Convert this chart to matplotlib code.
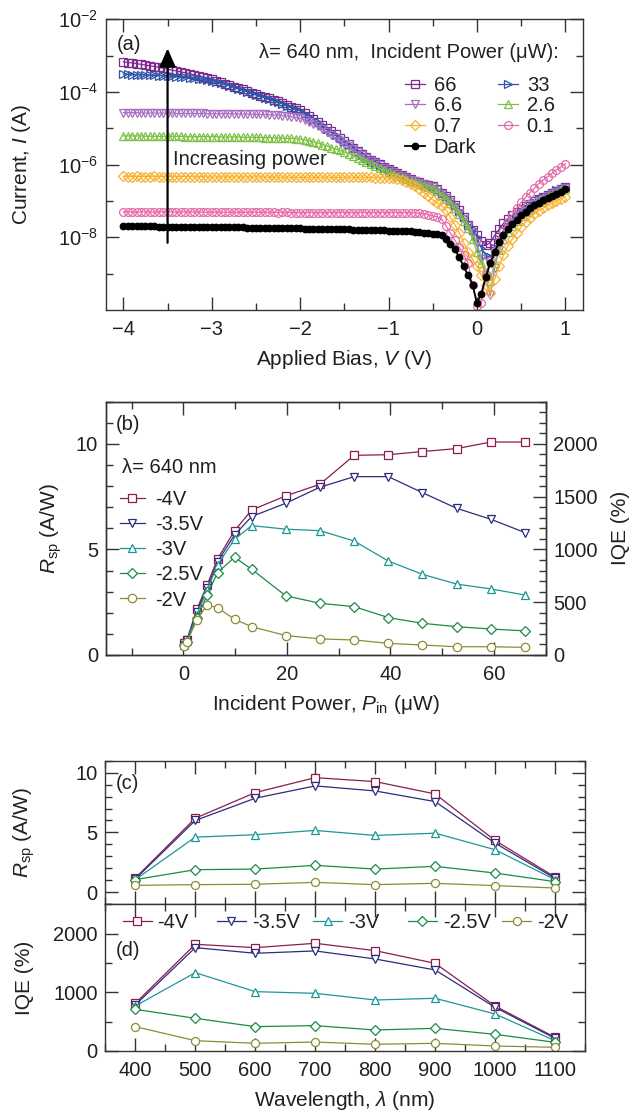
import numpy as np
import matplotlib
matplotlib.use("Agg")
import matplotlib.pyplot as plt
from matplotlib.ticker import FixedLocator, MultipleLocator, NullFormatter, LogFormatterSciNotation

plt.rcParams['font.family'] = ['Liberation Sans', 'DejaVu Sans']
plt.rcParams['mathtext.fontset'] = 'custom'
plt.rcParams['mathtext.rm'] = 'Liberation Sans'
plt.rcParams['mathtext.it'] = 'Liberation Sans:italic'
plt.rcParams['mathtext.bf'] = 'Liberation Sans:bold'
plt.rcParams['mathtext.sf'] = 'Liberation Sans'

# ---------------- panel (a): I-V curves (log10 of current in A) ----------------
bias_V = np.linspace(-4.0, 1.0, 101)   # 0.05 V measurement grid

logI_66 = [-3.17, -3.19, -3.20, -3.22, -3.24, -3.26, -3.28, -3.30, -3.32, -3.35,
           -3.37, -3.40, -3.42, -3.45, -3.47, -3.50, -3.53, -3.56, -3.59, -3.62,
           -3.65, -3.69, -3.73, -3.77, -3.81, -3.85, -3.89, -3.93, -3.97, -4.02,
           -4.06, -4.10, -4.14, -4.18, -4.22, -4.26, -4.31, -4.36, -4.41, -4.45,
           -4.50, -4.58, -4.66, -4.74, -4.82, -4.90, -4.99, -5.08, -5.17, -5.26,
           -5.35, -5.44, -5.53, -5.62, -5.71, -5.80, -5.87, -5.93, -5.99, -6.06,
           -6.12, -6.18, -6.24, -6.29, -6.35, -6.40, -6.44, -6.48, -6.52, -6.56,
           -6.60, -6.68, -6.77, -6.87, -6.98, -7.10, -7.25, -7.45, -7.65, -7.80,
           -7.95, -8.10, -8.22, -8.15, -7.95, -7.78, -7.62, -7.50, -7.40, -7.31,
           -7.22, -7.14, -7.07, -7.00, -6.94, -6.88, -6.83, -6.77, -6.72, -6.67, -6.62]
logI_33 = [-3.51, -3.51, -3.52, -3.52, -3.53, -3.53, -3.54, -3.54, -3.55, -3.55,
           -3.56, -3.57, -3.58, -3.59, -3.60, -3.61, -3.62, -3.64, -3.65, -3.67,
           -3.69, -3.72, -3.75, -3.79, -3.83, -3.87, -3.91, -3.95, -3.99, -4.04,
           -4.08, -4.12, -4.16, -4.20, -4.24, -4.28, -4.33, -4.38, -4.43, -4.47,
           -4.52, -4.60, -4.68, -4.76, -4.84, -4.92, -5.01, -5.10, -5.19, -5.28,
           -5.37, -5.46, -5.55, -5.64, -5.73, -5.82, -5.89, -5.95, -6.01, -6.08,
           -6.14, -6.20, -6.26, -6.31, -6.37, -6.42, -6.46, -6.50, -6.54, -6.58,
           -6.62, -6.70, -6.79, -6.89, -7.00, -7.12, -7.27, -7.45, -7.62, -7.78,
           -8.00, -8.30, -8.50, -8.55, -8.30, -8.05, -7.80, -7.62, -7.48, -7.37,
           -7.27, -7.18, -7.10, -7.02, -6.95, -6.89, -6.83, -6.77, -6.71, -6.66, -6.61]
logI_6p6 = [-4.57, -4.57, -4.57, -4.57, -4.58, -4.58, -4.58, -4.58, -4.58, -4.58,
            -4.58, -4.58, -4.59, -4.59, -4.59, -4.59, -4.59, -4.59, -4.59, -4.60,
            -4.60, -4.60, -4.60, -4.60, -4.60, -4.60, -4.61, -4.61, -4.61, -4.61,
            -4.62, -4.62, -4.62, -4.63, -4.63, -4.64, -4.65, -4.66, -4.68, -4.70,
            -4.73, -4.77, -4.82, -4.88, -4.95, -5.03, -5.11, -5.19, -5.27, -5.35,
            -5.42, -5.50, -5.58, -5.66, -5.74, -5.82, -5.89, -5.95, -6.01, -6.08,
            -6.14, -6.20, -6.26, -6.31, -6.37, -6.42, -6.46, -6.50, -6.54, -6.58,
            -6.62, -6.70, -6.80, -6.91, -7.03, -7.16, -7.32, -7.50, -7.68, -7.88,
            -8.15, -8.60, -9.10, -9.60, -8.85, -8.35, -8.00, -7.78, -7.62, -7.50,
            -7.38, -7.28, -7.18, -7.09, -7.01, -6.94, -6.87, -6.81, -6.75, -6.70, -6.65]
logI_2p6 = [-5.21, -5.21, -5.21, -5.21, -5.21, -5.22, -5.22, -5.22, -5.22, -5.22,
            -5.22, -5.22, -5.22, -5.22, -5.23, -5.23, -5.23, -5.23, -5.23, -5.23,
            -5.23, -5.23, -5.24, -5.24, -5.24, -5.24, -5.24, -5.25, -5.25, -5.25,
            -5.25, -5.25, -5.26, -5.26, -5.26, -5.27, -5.27, -5.28, -5.28, -5.29,
            -5.30, -5.32, -5.35, -5.38, -5.41, -5.45, -5.49, -5.53, -5.57, -5.61,
            -5.65, -5.70, -5.76, -5.82, -5.88, -5.93, -5.99, -6.05, -6.10, -6.15,
            -6.20, -6.25, -6.30, -6.35, -6.40, -6.45, -6.49, -6.53, -6.57, -6.61,
            -6.65, -6.73, -6.83, -6.94, -7.06, -7.20, -7.36, -7.55, -7.75, -8.05,
            -8.40, -8.70, -8.95, -9.20, -8.70, -8.35, -8.05, -7.85, -7.68, -7.54,
            -7.42, -7.31, -7.21, -7.12, -7.04, -6.97, -6.90, -6.83, -6.77, -6.71, -6.66]
logI_0p7 = [-6.32, -6.33, -6.33, -6.32, -6.33, -6.33, -6.33, -6.32, -6.33, -6.33,
            -6.33, -6.33, -6.33, -6.33, -6.33, -6.33, -6.34, -6.33, -6.33, -6.34,
            -6.34, -6.34, -6.34, -6.34, -6.34, -6.34, -6.34, -6.34, -6.34, -6.34,
            -6.34, -6.34, -6.34, -6.35, -6.34, -6.35, -6.35, -6.35, -6.35, -6.35,
            -6.35, -6.35, -6.35, -6.35, -6.35, -6.35, -6.35, -6.35, -6.35, -6.35,
            -6.35, -6.35, -6.35, -6.35, -6.35, -6.35, -6.35, -6.36, -6.36, -6.36,
            -6.36, -6.37, -6.40, -6.43, -6.47, -6.52, -6.60, -6.68, -6.77, -6.87,
            -6.97, -7.06, -7.13, -7.25, -7.45, -7.65, -7.88, -8.15, -8.40, -8.60,
            -8.80, -9.05, -9.30, -9.53, -9.15, -8.80, -8.50, -8.23, -8.05, -7.88,
            -7.72, -7.58, -7.46, -7.35, -7.27, -7.20, -7.12, -7.06, -7.00, -6.94, -6.88]
logI_0p1 = [-7.30, -7.30, -7.30, -7.31, -7.30, -7.30, -7.30, -7.31, -7.30, -7.30,
            -7.30, -7.30, -7.31, -7.30, -7.30, -7.31, -7.30, -7.30, -7.31, -7.31,
            -7.31, -7.31, -7.31, -7.31, -7.31, -7.31, -7.31, -7.31, -7.31, -7.31,
            -7.31, -7.31, -7.31, -7.31, -7.31, -7.32, -7.31, -7.31, -7.32, -7.32,
            -7.32, -7.32, -7.32, -7.32, -7.32, -7.32, -7.32, -7.32, -7.32, -7.32,
            -7.32, -7.32, -7.32, -7.32, -7.32, -7.32, -7.32, -7.32, -7.32, -7.32,
            -7.32, -7.32, -7.32, -7.32, -7.32, -7.32, -7.33, -7.34, -7.35, -7.38,
            -7.41, -7.44, -7.50, -7.68, -7.88, -8.08, -8.27, -8.48, -8.71, -9.30,
            -9.90, -9.80, -9.00, -8.65, -8.38, -8.10, -7.82, -7.57, -7.38, -7.20,
            -7.04, -6.90, -6.77, -6.65, -6.52, -6.42, -6.33, -6.24, -6.14, -6.06, -5.98]
logI_dark = [-7.69, -7.69, -7.69, -7.70, -7.70, -7.70, -7.70, -7.70, -7.71, -7.71,
             -7.71, -7.71, -7.71, -7.71, -7.72, -7.72, -7.72, -7.72, -7.72, -7.72,
             -7.72, -7.72, -7.73, -7.73, -7.73, -7.73, -7.73, -7.73, -7.74, -7.74,
             -7.74, -7.74, -7.74, -7.74, -7.74, -7.75, -7.75, -7.75, -7.75, -7.75,
             -7.75, -7.76, -7.76, -7.76, -7.76, -7.77, -7.77, -7.77, -7.77, -7.78,
             -7.78, -7.78, -7.79, -7.79, -7.79, -7.80, -7.80, -7.80, -7.81, -7.81,
             -7.82, -7.82, -7.82, -7.83, -7.83, -7.84, -7.85, -7.86, -7.87, -7.88,
             -7.90, -7.92, -7.95, -8.05, -8.18, -8.33, -8.55, -8.80, -9.05, -9.30,
             -9.80, -9.55, -9.10, -8.72, -8.40, -8.14, -7.95, -7.78, -7.64, -7.52,
             -7.40, -7.30, -7.20, -7.12, -7.05, -6.98, -6.92, -6.86, -6.80, -6.74, -6.68]

iv_labels = ['66', '33', '6.6', '2.6', '0.7', '0.1', 'Dark']
iv_series = [logI_66, logI_33, logI_6p6, logI_2p6, logI_0p7, logI_0p1, logI_dark]
iv_colors = ['#7D2B8F', '#2E56A6', '#A66FC2', '#7CC143', '#F8B132', '#E46CA9', '#000000']
iv_markers = ['s', '>', 'v', '^', 'D', 'o', 'o']

# ---------------- panel (b): responsivity vs incident power ----------------
power_uW = [0.1, 0.7, 2.6, 4.6, 6.6, 9.9, 13.2, 19.8, 26.4, 33.0, 39.6, 46.2, 52.8, 59.4, 66.0]
rsp_m4 = [0.55, 0.71, 2.16, 3.32, 4.55, 5.89, 6.87, 7.54, 8.09, 9.46, 9.49, 9.64, 9.78, 10.09, 10.09]
rsp_m35 = [0.47, 0.71, 2.05, 3.16, 4.42, 5.69, 6.56, 7.19, 7.95, 8.45, 8.45, 7.69, 6.95, 6.43, 5.80]
rsp_m3 = [0.47, 0.68, 1.90, 3.08, 4.27, 5.48, 6.13, 5.96, 5.89, 5.40, 4.45, 3.82, 3.36, 3.13, 2.84]
rsp_m25 = [0.47, 0.63, 1.74, 2.84, 3.90, 4.63, 4.06, 2.80, 2.45, 2.29, 1.77, 1.50, 1.34, 1.23, 1.14]
rsp_m2 = [0.43, 0.63, 1.66, 2.37, 2.24, 1.69, 1.34, 0.92, 0.76, 0.71, 0.55, 0.47, 0.39, 0.39, 0.36]

bias_labels = ['-4V', '-3.5V', '-3V', '-2.5V', '-2V']
bias_colors = ['#8C1D4E', '#2B2D7C', '#1D9696', '#1B8C46', '#8E8C33']
bias_markers = ['s', 'v', '^', 'D', 'o']

# ---------------- panels (c), (d): vs wavelength ----------------
wavelength_nm = [400, 500, 600, 700, 800, 900, 1000, 1100]
rspw_m4 = [1.19, 6.19, 8.33, 9.58, 9.25, 8.22, 4.33, 1.28]
rspw_m35 = [1.11, 6.00, 7.86, 8.89, 8.47, 7.58, 4.11, 1.17]
rspw_m3 = [1.06, 4.61, 4.81, 5.17, 4.75, 4.94, 3.56, 1.06]
rspw_m25 = [1.06, 1.89, 1.94, 2.25, 1.94, 2.17, 1.61, 0.89]
rspw_m2 = [0.58, 0.64, 0.67, 0.83, 0.64, 0.75, 0.56, 0.36]

iqe_m4 = [812, 1818, 1761, 1835, 1710, 1494, 767, 233]
iqe_m35 = [784, 1761, 1665, 1705, 1568, 1381, 744, 216]
iqe_m3 = [767, 1335, 1011, 983, 869, 898, 631, 176]
iqe_m25 = [710, 557, 415, 432, 358, 386, 284, 148]
iqe_m2 = [415, 176, 131, 153, 114, 131, 85, 63]

TXT = '#231F20'
SPINE = '#333333'
TICK_FS = 14.5
LAB_FS = 15
LEG_FS = 14.5

fig = plt.figure(figsize=(6.41, 11.15), dpi=100)
axA = fig.add_axes([0.1649, 0.7220, 0.7446, 0.2607])
axB = fig.add_axes([0.1649, 0.4126, 0.6864, 0.2271])
axC = fig.add_axes([0.1643, 0.1890, 0.7483, 0.1288])
axD = fig.add_axes([0.1643, 0.0574, 0.7483, 0.1316], sharex=axC)


def style(ax, top=True, right=True, left=True):
    for s in ax.spines.values():
        s.set_linewidth(1.0)
        s.set_color(SPINE)
    ax.tick_params(which='both', direction='in', top=top, right=right, left=left,
                   color=SPINE, labelcolor=TXT, labelsize=TICK_FS, width=1.0)
    ax.tick_params(which='major', length=9.5)
    ax.tick_params(which='minor', length=5)
    ax.tick_params(axis='x', which='both', pad=7.5)
    ax.tick_params(axis='y', which='both', pad=5.5)


# ---------------- (a) ----------------
lines_a = {}
for lab, vals, col, mk in zip(iv_labels, iv_series, iv_colors, iv_markers):
    current = 10.0 ** np.asarray(vals)
    if lab == 'Dark':
        ln, = axA.plot(bias_V, current, color=col, marker=mk, ms=4.6, mfc=col, mec=col,
                       lw=1.3, zorder=5)
    else:
        ms = 5.0 if mk == 'D' else 5.6
        ln, = axA.plot(bias_V, current, color=col, marker=mk, ms=ms, mfc='none', mec=col,
                       mew=0.9, lw=0.9)
    lines_a[lab] = ln
axA.set_yscale('log')
axA.set_xlim(-4.2, 1.2)
axA.set_ylim(1e-10, 1e-2)
axA.yaxis.set_major_locator(FixedLocator([1e-8, 1e-6, 1e-4, 1e-2]))
axA.yaxis.set_major_formatter(LogFormatterSciNotation())
axA.yaxis.set_minor_locator(FixedLocator([1e-9, 1e-7, 1e-5, 1e-3]))
axA.yaxis.set_minor_formatter(NullFormatter())
axA.xaxis.set_major_locator(MultipleLocator(1))
axA.xaxis.set_minor_locator(MultipleLocator(0.5))
style(axA)
axA.set_xlabel('Applied Bias, $V$ (V)', fontsize=LAB_FS, color=TXT)
axA.set_ylabel('Current, $I$ (A)', fontsize=LAB_FS, color=TXT)
axA.xaxis.label.set_va('center')
axA.yaxis.label.set_va('center')
axA.xaxis.set_label_coords(0.5, -0.172)
axA.yaxis.set_label_coords(-0.1754, 0.5)

axA.annotate('', xy=(-3.5, 10 ** -2.80), xytext=(-3.5, 10 ** -8.15),
             arrowprops=dict(arrowstyle='-|>,head_length=0.8,head_width=0.35', lw=1.6,
                             color='k', shrinkA=0, shrinkB=0, mutation_scale=14))
axA.text(-3.44, 10 ** -5.87, 'Increasing power', fontsize=LEG_FS, color=TXT,
         ha='left', va='center')
axA.text(0.0237, 0.9116, '(a)', transform=axA.transAxes, fontsize=LEG_FS, color=TXT,
         ha='left', va='center')
axA.text(0.9503, 0.886, 'λ= 640 nm,  Incident Power (μW):', transform=axA.transAxes,
         fontsize=LEG_FS, color=TXT, ha='right', va='center')
order = ['66', '6.6', '0.7', 'Dark', '33', '2.6', '0.1']
legA = axA.legend([lines_a[k] for k in order], order, ncol=2, loc='upper left',
                  bbox_to_anchor=(0.627, 0.806), frameon=False, fontsize=LEG_FS,
                  handlelength=1.0, handletextpad=0.42, columnspacing=1.09,
                  labelspacing=0.09, borderpad=0, borderaxespad=0, numpoints=1)
for t in legA.get_texts():
    t.set_color(TXT)

# ---------------- (b) ----------------
rsp_series = [rsp_m4, rsp_m35, rsp_m3, rsp_m25, rsp_m2]
lines_b = []
for lab, vals, col, mk in zip(bias_labels, rsp_series, bias_colors, bias_markers):
    ms = 5.4 if mk == 'D' else 6.0
    ln, = axB.plot(power_uW, vals, color=col, marker=mk, ms=ms, mfc='white', mec=col,
                   mew=0.9, lw=0.9)
    lines_b.append(ln)
axB.set_xlim(-15, 70)
axB.set_ylim(0, 12)
axB.xaxis.set_major_locator(MultipleLocator(20))
axB.xaxis.set_minor_locator(MultipleLocator(10))
axB.yaxis.set_major_locator(MultipleLocator(5))
axB.yaxis.set_minor_locator(MultipleLocator(1))
style(axB, right=False)
axB2 = axB.twinx()
axB2.set_ylim(0, 2400)
axB2.yaxis.set_major_locator(MultipleLocator(500))
axB2.yaxis.set_minor_locator(MultipleLocator(100))
style(axB2, top=False, right=True, left=False)
axB2.tick_params(which='both', labelleft=False, labelright=True, bottom=False, top=False)
axB.set_xlabel('Incident Power, $P_{\\mathrm{in}}$ (μW)', fontsize=LAB_FS, color=TXT)
axB.set_ylabel('$R_{\\mathrm{sp}}$ (A/W)', fontsize=LAB_FS, color=TXT)
axB2.set_ylabel('IQE (%)', fontsize=LAB_FS, color=TXT)
for lbl in (axB.xaxis.label, axB.yaxis.label, axB2.yaxis.label):
    lbl.set_va('center')
axB.xaxis.set_label_coords(0.5, -0.197)
axB.yaxis.set_label_coords(-0.1234, 0.5)
axB2.yaxis.set_label_coords(1.170, 0.5)
axB.text(0.0227, 0.911, '(b)', transform=axB.transAxes, fontsize=LEG_FS, color=TXT,
         ha='left', va='center')
axB.text(0.037, 0.741, 'λ= 640 nm', transform=axB.transAxes, fontsize=LEG_FS, color=TXT,
         ha='left', va='center')
legB = axB.legend(lines_b, bias_labels, loc='upper left', bbox_to_anchor=(0.0316, 0.650),
                  frameon=False, fontsize=LEG_FS, handlelength=1.28, handletextpad=0.47,
                  labelspacing=0.30, borderpad=0, borderaxespad=0, numpoints=1)
for t in legB.get_texts():
    t.set_color(TXT)

# ---------------- (c) ----------------
rspw_series = [rspw_m4, rspw_m35, rspw_m3, rspw_m25, rspw_m2]
for lab, vals, col, mk in zip(bias_labels, rspw_series, bias_colors, bias_markers):
    ms = 5.2 if mk == 'D' else 5.8
    axC.plot(wavelength_nm, vals, color=col, marker=mk, ms=ms, mfc='white', mec=col,
             mew=0.9, lw=0.9)
axC.set_xlim(350, 1150)
axC.set_ylim(-1, 11)
axC.yaxis.set_major_locator(MultipleLocator(5))
axC.yaxis.set_minor_locator(MultipleLocator(1))
axC.xaxis.set_major_locator(MultipleLocator(100))
axC.xaxis.set_minor_locator(MultipleLocator(50))
style(axC)
axC.tick_params(labelbottom=False)
axC.set_ylabel('$R_{\\mathrm{sp}}$ (A/W)', fontsize=LAB_FS, color=TXT)
axC.yaxis.label.set_va('center')
axC.yaxis.set_label_coords(-0.1695, 0.5)
axC.text(0.0217, 0.838, '(c)', transform=axC.transAxes, fontsize=LEG_FS, color=TXT,
         ha='left', va='center')

# ---------------- (d) ----------------
iqe_series = [iqe_m4, iqe_m35, iqe_m3, iqe_m25, iqe_m2]
lines_d = []
for lab, vals, col, mk in zip(bias_labels, iqe_series, bias_colors, bias_markers):
    ms = 5.2 if mk == 'D' else 5.8
    ln, = axD.plot(wavelength_nm, vals, color=col, marker=mk, ms=ms, mfc='white', mec=col,
                   mew=0.9, lw=0.9)
    lines_d.append(ln)
axD.set_ylim(0, 2500)
axD.yaxis.set_major_locator(MultipleLocator(1000))
axD.yaxis.set_minor_locator(MultipleLocator(500))
style(axD)
axD.set_xlabel('Wavelength, $\\lambda$ (nm)', fontsize=LAB_FS, color=TXT)
axD.set_ylabel('IQE (%)', fontsize=LAB_FS, color=TXT)
axD.xaxis.label.set_va('center')
axD.yaxis.label.set_va('center')
axD.xaxis.set_label_coords(0.5, -0.334)
axD.yaxis.set_label_coords(-0.1695, 0.5)
axD.text(0.0217, 0.688, '(d)', transform=axD.transAxes, fontsize=LEG_FS, color=TXT,
         ha='left', va='center')
leg_x = [0.0359, 0.2326, 0.434, 0.631, 0.828]
for i, (ln, lab) in enumerate(zip(lines_d, bias_labels)):
    lg = axD.legend([ln], [lab], loc='center left', bbox_to_anchor=(leg_x[i], 0.8746),
                    frameon=False, fontsize=LEG_FS, handlelength=1.44, handletextpad=0.3,
                    borderpad=0, borderaxespad=0, numpoints=1)
    for t in lg.get_texts():
        t.set_color(TXT)
    if i < len(lines_d) - 1:
        axD.add_artist(lg)

fig.savefig('out.png', dpi=100, facecolor='white')
